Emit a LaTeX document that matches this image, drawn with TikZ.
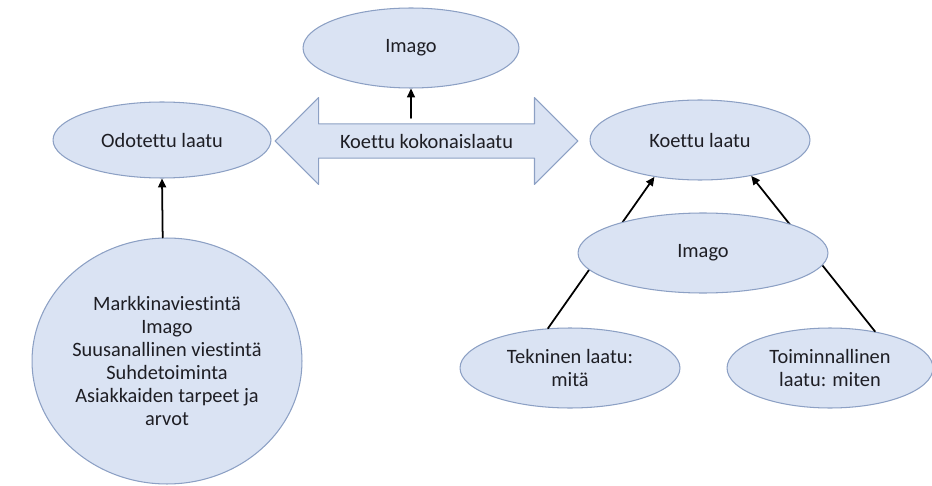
\documentclass[tikz,border=0pt]{standalone}
\usepackage{fontspec}
\setmainfont{Carlito}[Ligatures=NoCommon]
\definecolor{fillblue}{RGB}{218,227,243}
\definecolor{edgeblue}{RGB}{140,160,196}
\definecolor{textgray}{RGB}{30,30,36}
\usetikzlibrary{arrows.meta,shapes.geometric,shapes.arrows}
\tikzset{
    bubble/.style = {ellipse, draw=edgeblue, fill=fillblue, line width=0.6pt, inner sep=0pt,
        text=textgray, align=center, font=\fontsize{11.6}{13.2}\selectfont},
    link/.style = {line width=1pt, -{Triangle[length=5pt,width=4.5pt]}}
}

\begin{document}
\begin{tikzpicture}[x=0.02cm, y=-0.02cm, line cap=round, line join=round]
\useasboundingbox (0,0) rectangle (932,486);
% left part
\node[bubble, minimum width=4.36cm, minimum height=1.52cm] (odotettu) at (162,140) {Odotettu laatu};
\node[bubble, minimum width=5.4cm, minimum height=4.92cm] (tekijat) at (167,361)
    {Markkinaviestintä\\Imago\\Suusanallinen viestintä\\Suhdetoiminta\\Asiakkaiden tarpeet ja\\arvot};
\draw[link] (tekijat.92) -- (odotettu.south);
% middle part
\node[bubble, minimum width=4.32cm, minimum height=1.6cm] (imagoylin) at (411,48) {Imago};
\node[double arrow, draw=edgeblue, fill=fillblue, line width=0.6pt, text=textgray,
    font=\fontsize{11.6}{13.2}\selectfont, minimum height=6.06cm, minimum width=1.74cm,
    double arrow head extend=0.42cm] (kokonais) at (426.5,141) {Koettu kokonaislaatu};
\coordinate (imagojalka) at (411,118);
\draw[link] (imagojalka) -- (imagoylin.south);
% right part
\node[bubble, minimum width=4.4cm, minimum height=1.6cm] (koettu) at (700,140) {Koettu laatu};
\node[bubble, minimum width=4.4cm, minimum height=1.6cm] (tekninen) at (570,368) {Tekninen laatu:\\mitä};
\node[bubble, minimum width=4.12cm, minimum height=1.6cm] (toiminnallinen) at (830,368) {Toiminnallinen\\laatu: miten};
\draw[link] (tekninen.119) -- (koettu.219);
\draw[link] (toiminnallinen.39) -- (koettu.325);
\node[bubble, minimum width=5cm, minimum height=1.6cm] (imagoala) at (703,253) {Imago};
\end{tikzpicture}
\end{document}
